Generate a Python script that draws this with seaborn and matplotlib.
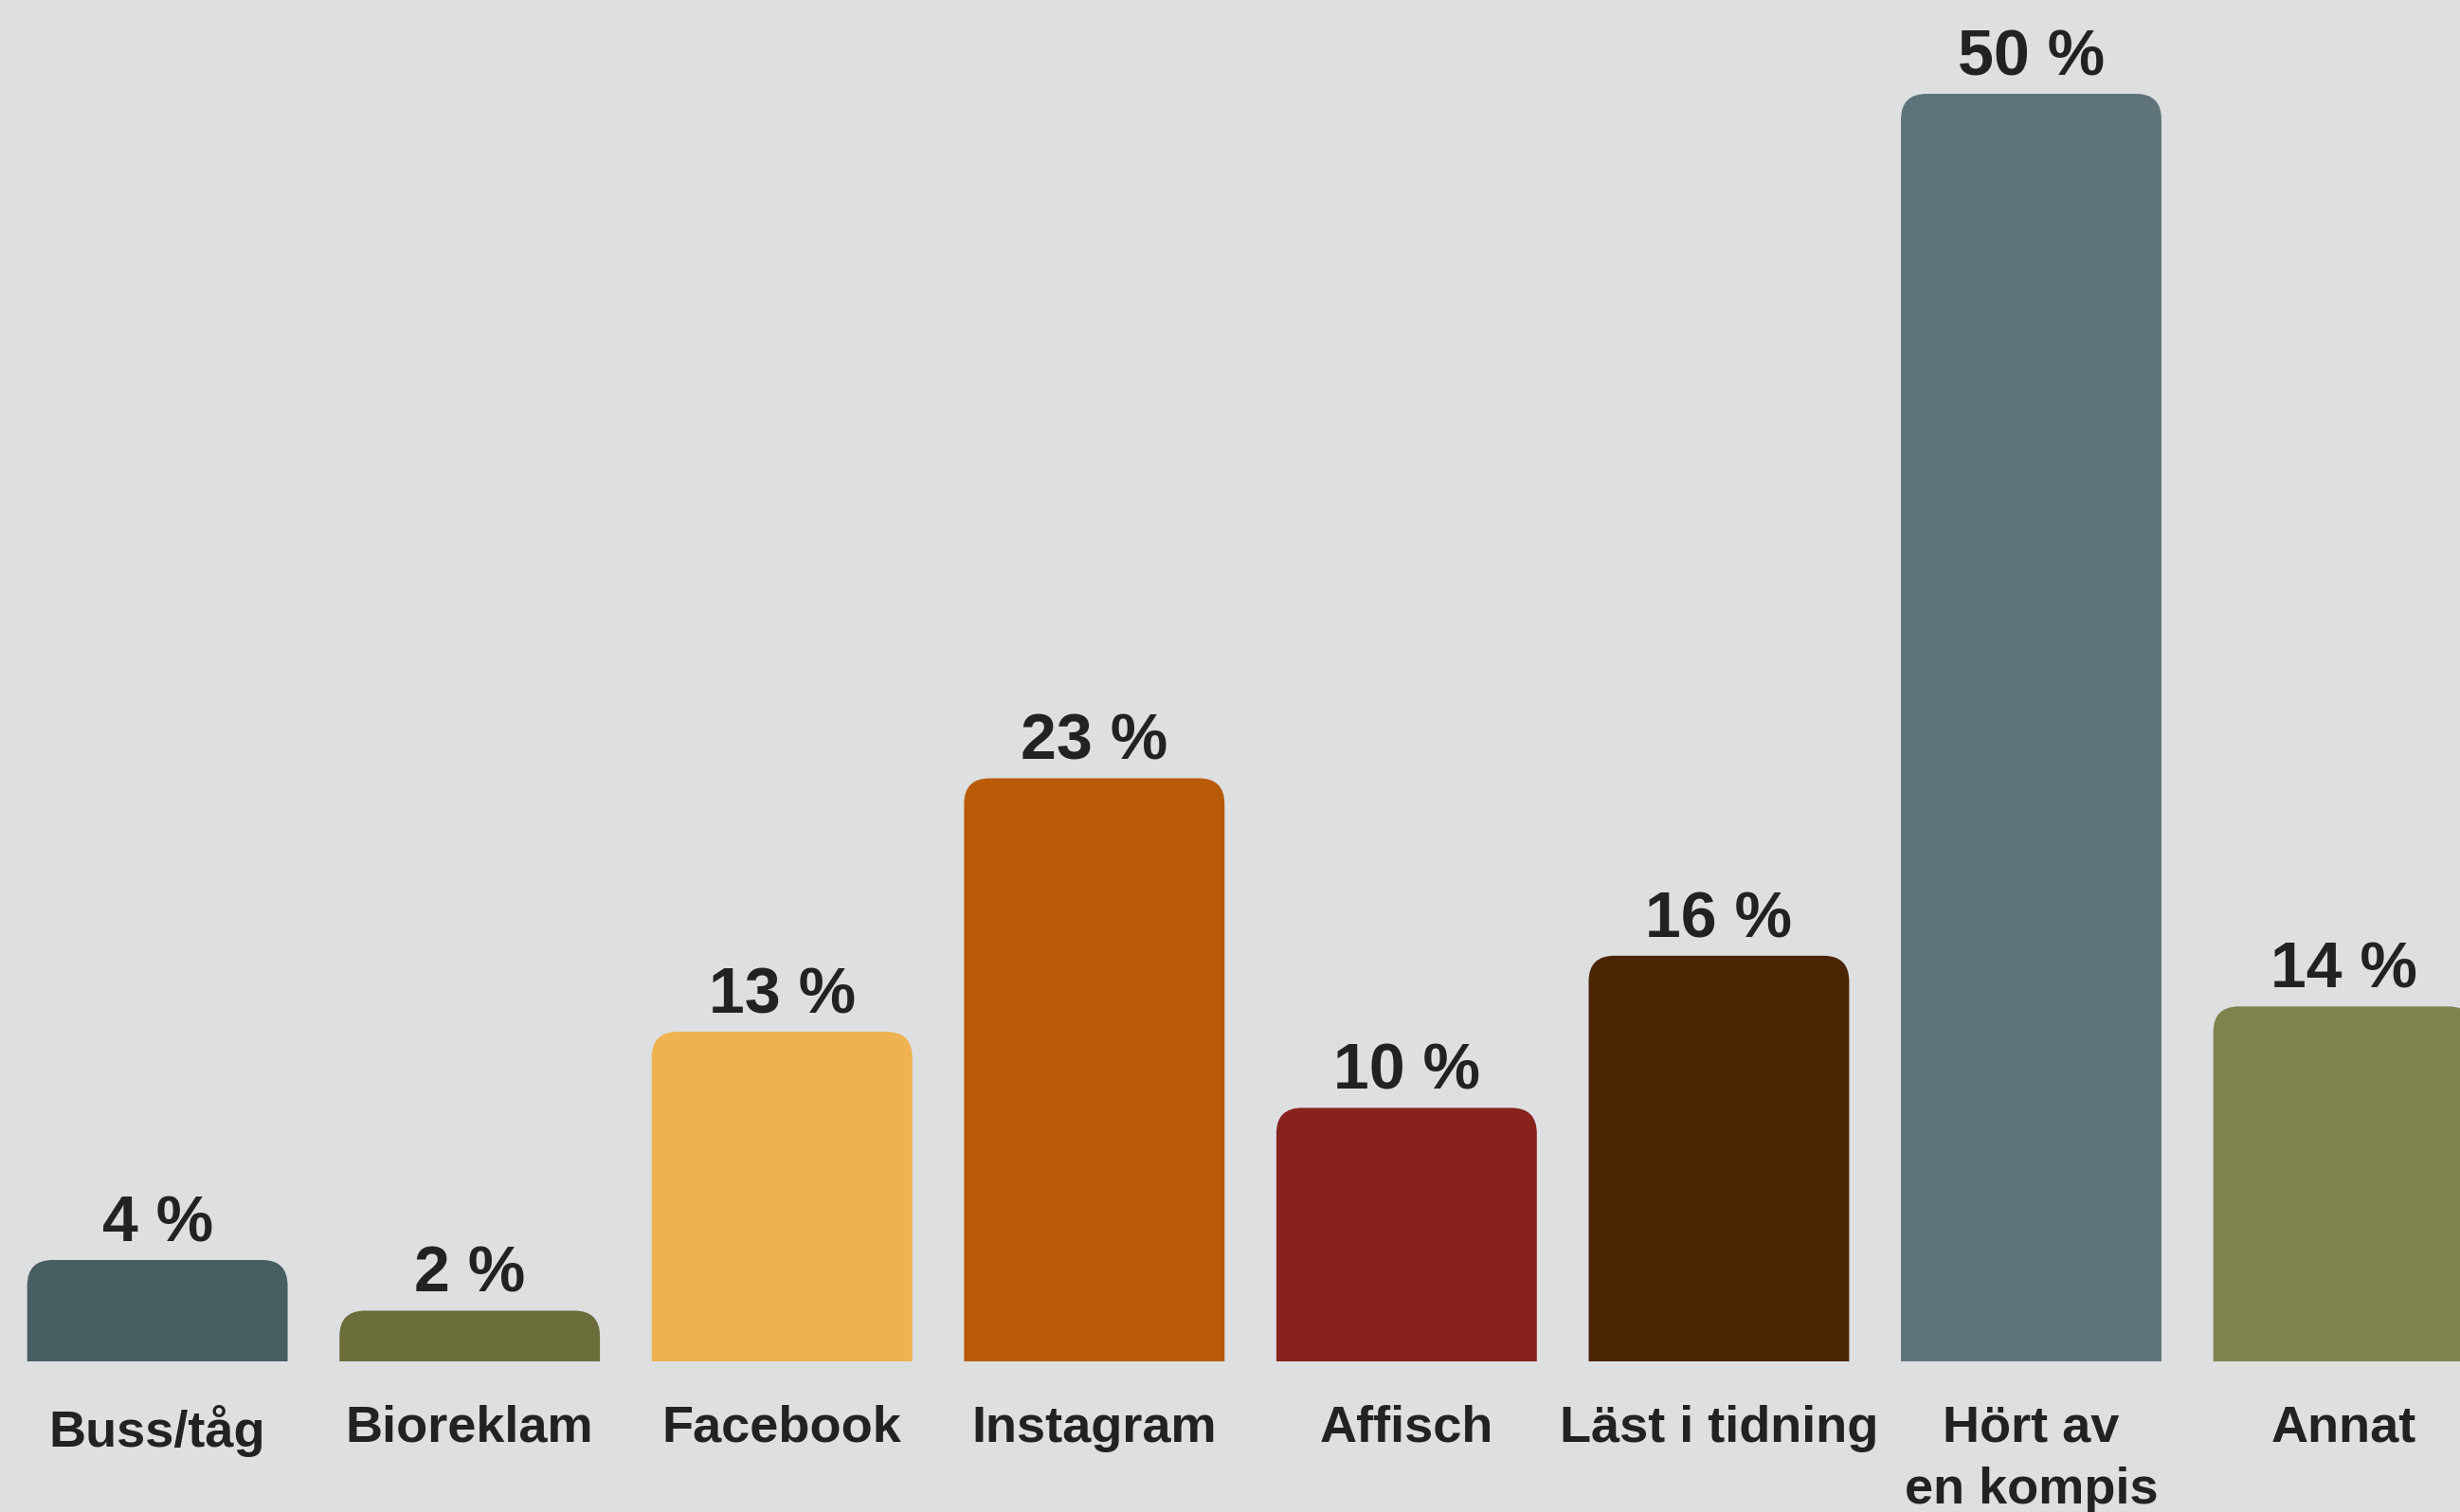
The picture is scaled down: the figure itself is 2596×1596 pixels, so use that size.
import matplotlib
matplotlib.use("Agg")
import matplotlib.pyplot as plt
from matplotlib.path import Path
from matplotlib.patches import PathPatch
import seaborn as sns
import pandas as pd

# data
kategorier = ['Buss/tåg', 'Bioreklam', 'Facebook', 'Instagram', 'Affisch',
              'Läst i tidning', 'Hört av\nen kompis', 'Annat']
andel = [4, 2, 13, 23, 10, 16, 50, 14]
farger = ['#485f62', '#6b6e3a', '#efb251', '#b95a07', '#88221c',
          '#4b2402', '#5e7478', '#7f824d']

bg = '#dddfe1'
textfarg = '#222222'

sns.set_style('white')
plt.rcParams['font.family'] = ['Liberation Sans', 'DejaVu Sans']

df = pd.DataFrame({'kategori': kategorier, 'andel': andel})

fig = plt.figure(figsize=(25.96, 15.96), dpi=100, facecolor=bg)
ax = fig.add_axes([0, 159 / 1596, 1, 1 - 159 / 1596])
ax.set_facecolor(bg)

sns.barplot(data=df, x='kategori', y='andel', hue='kategori', palette=farger,
            legend=False, width=0.834, saturation=1, ax=ax)

ax.set_xlim(-0.504, 7.373)
ax.set_ylim(0, 53.7)

# procentetiketter ovanför staplarna
for cont in ax.containers:
    ax.bar_label(cont, fmt='{:.0f} %', padding=4, fontsize=49,
                 fontweight='bold', color=textfarg)

# runda av de övre hörnen
fig.canvas.draw()
px_x = ax.transData.transform((1, 0))[0] - ax.transData.transform((0, 0))[0]
px_y = ax.transData.transform((0, 1))[1] - ax.transData.transform((0, 0))[1]
r = 27
for p in list(ax.patches):
    x0, y0 = p.get_x(), p.get_y()
    x1, y1 = x0 + p.get_width(), y0 + p.get_height()
    rx = r / px_x
    ry = min(r / px_y, p.get_height())
    verts = [(x0, y0), (x0, y1 - ry), (x0, y1), (x0 + rx, y1),
             (x1 - rx, y1), (x1, y1), (x1, y1 - ry), (x1, y0), (x0, y0)]
    codes = [Path.MOVETO, Path.LINETO, Path.CURVE3, Path.CURVE3,
             Path.LINETO, Path.CURVE3, Path.CURVE3, Path.LINETO, Path.CLOSEPOLY]
    ax.add_patch(PathPatch(Path(verts, codes), facecolor=p.get_facecolor(),
                           edgecolor='none', clip_on=True))
    p.set_visible(False)

ax.set_xlabel('')
ax.set_ylabel('')
ax.set_yticks([])
ax.tick_params(axis='x', length=0, pad=33)
for lbl in ax.get_xticklabels():
    lbl.set_fontsize(39)
    lbl.set_fontweight('bold')
    lbl.set_color(textfarg)
    lbl.set_linespacing(1.38)
sns.despine(ax=ax, left=True, bottom=True)

fig.savefig('out.png', dpi=100, facecolor=bg)
